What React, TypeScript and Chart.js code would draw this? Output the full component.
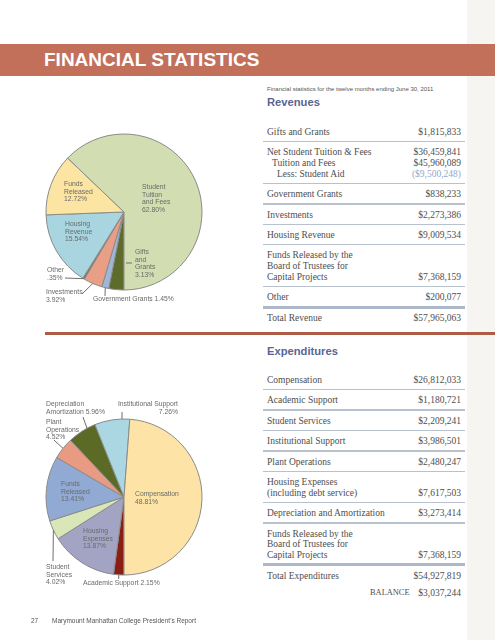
import React, { useEffect, useRef } from "react";
import { Chart, registerables } from "chart.js";

Chart.register(...registerables);

// ---------- DATA ----------
const revenueCategories = ["Gifts and Grants", "Government Grants", "Investments", "Other", "Housing Revenue", "Funds Released", "Student Tuition and Fees"];
const revenuePercents = [3.13, 1.45, 3.92, 0.35, 15.54, 12.72, 62.8];
const revenueColors = ["#5d6b2b", "#9fb6d9", "#e99e86", "#7a6656", "#a9d5e1", "#fce4a2", "#d3ddb2"];

const expenseCategories = ["Academic Support", "Housing Expenses", "Student Services", "Funds Released", "Plant Operations", "Depreciation Amortization", "Institutional Support", "Compensation"];
const expensePercents = [2.15, 13.87, 4.02, 13.41, 4.52, 5.96, 7.26, 48.81];
const expenseColors = ["#8b1e12", "#a3a3c4", "#d8e6b8", "#91aad3", "#e99a82", "#5b6b26", "#abd7e3", "#fde4a6"];

const revenueRows: string[][] = [
  ["Gifts and Grants"],
  ["Net Student Tuition & Fees", "Tuition and Fees", "Less: Student Aid"],
  ["Government Grants"],
  ["Investments"],
  ["Housing Revenue"],
  ["Funds Released by the", "Board of Trustees for", "Capital Projects"],
  ["Other"],
];
const revenueAmounts: string[][] = [
  ["$1,815,833"],
  ["$36,459,841", "$45,960,089", "($9,500,248)"],
  ["$838,233"],
  ["$2,273,386"],
  ["$9,009,534"],
  ["", "", "$7,368,159"],
  ["$200,077"],
];
const revenueTotal = ["Total Revenue", "$57,965,063"];

const expenseRows: string[][] = [
  ["Compensation"],
  ["Academic Support"],
  ["Student Services"],
  ["Institutional Support"],
  ["Plant Operations"],
  ["Housing Expenses", "(including debt service)"],
  ["Depreciation and Amortization"],
  ["Funds Released by the", "Board of Trustees for", "Capital Projects"],
];
const expenseAmounts: string[][] = [
  ["$26,812,033"],
  ["$1,180,721"],
  ["$2,209,241"],
  ["$3,986,501"],
  ["$2,480,247"],
  ["", "$7,617,503"],
  ["$3,273,414"],
  ["", "", "$7,368,159"],
];
const expenseTotal = ["Total Expenditures", "$54,927,819"];
const balance = ["BALANCE", "$3,037,244"];

// ---------- STYLE CONSTANTS ----------
const SANS = '"Liberation Sans", Arial, Helvetica, sans-serif';
const SERIF = '"Liberation Serif", "Times New Roman", serif';
const LABEL_COLOR = "#6a6a6a";
const TEXT_COLOR = "#4e4e4e";

type Leader = { index: number; frac?: number; from?: [number, number]; to: [number, number] };

const revenueLeaders: Leader[] = [
  { index: 0, from: [2, 51], to: [8, 51] },
  { index: 1, to: [-19, 84] },
  { index: 2, to: [-42, 82] },
  { index: 3, to: [-59, 66] },
];
const expenseLeaders: Leader[] = [
  { index: 0, to: [-5.3, 82] },
  { index: 2, to: [-71, 64] },
  { index: 4, to: [-70, -57] },
  { index: 5, frac: 0.7, to: [-41, -80] },
  { index: 6, frac: 0.78, to: [-2, -85] },
];

function PieCanvas(props: { labels: string[]; values: number[]; colors: string[]; top: number; leaders: Leader[] }) {
  const ref = useRef<HTMLCanvasElement>(null);
  useEffect(() => {
    const leaders = props.leaders;
    const leaderPlugin = {
      id: "leaders",
      afterDatasetsDraw(chart: any) {
        const meta = chart.getDatasetMeta(0);
        const ctx = chart.ctx;
        ctx.save();
        ctx.strokeStyle = "#6e6e6e";
        ctx.lineWidth = 1;
        leaders.forEach((l) => {
          const arc = meta.data[l.index];
          const p = arc.getProps(["x", "y", "startAngle", "endAngle", "outerRadius"], true);
          let x1: number, y1: number;
          if (l.from) {
            x1 = p.x + l.from[0];
            y1 = p.y + l.from[1];
          } else {
            const a = p.startAngle + (p.endAngle - p.startAngle) * (l.frac ?? 0.5);
            x1 = p.x + Math.cos(a) * p.outerRadius;
            y1 = p.y + Math.sin(a) * p.outerRadius;
          }
          ctx.beginPath();
          ctx.moveTo(x1, y1);
          ctx.lineTo(p.x + l.to[0], p.y + l.to[1]);
          ctx.stroke();
        });
        ctx.restore();
      },
    };
    const chart = new Chart(ref.current!, {
      type: "pie",
      data: {
        labels: props.labels,
        datasets: [
          {
            data: props.values,
            backgroundColor: props.colors,
            borderColor: "#8a8a8a",
            borderWidth: 1,
          },
        ],
      },
      options: {
        responsive: false,
        animation: false,
        rotation: 180,
        radius: 78,
        events: [],
        layout: { padding: 0 },
        plugins: { legend: { display: false }, tooltip: { enabled: false } },
      } as any,
      plugins: [leaderPlugin],
    });
    return () => chart.destroy();
  }, []);
  return <canvas ref={ref} width={248} height={180} style={{ position: "absolute", left: 0, top: props.top }} />;
}

function Label(props: { left?: number; right?: number; top: number; lines: string[]; align?: "left" | "right" }) {
  const style: React.CSSProperties = {
    position: "absolute",
    top: props.top,
    fontFamily: SANS,
    fontSize: 6.8,
    lineHeight: "7.7px",
    color: LABEL_COLOR,
    whiteSpace: "nowrap",
    textAlign: props.align || "left",
  };
  if (props.left !== undefined) style.left = props.left;
  if (props.right !== undefined) style.right = props.right;
  return (
    <div style={style}>
      {props.lines.map((t, i) => (
        <div key={i}>{t}</div>
      ))}
    </div>
  );
}

function Table(props: { rows: string[][]; amounts: string[][]; startY: number; total: string[]; extra?: string[] }) {
  const els: React.ReactNode[] = [];
  const LH = 10.7;
  let y = props.startY;
  let k = 0;
  const text = (t: string, yc: number, left: number, color = TEXT_COLOR) =>
    els.push(
      <div key={k++} style={{ position: "absolute", left, top: yc - 6, height: 12, lineHeight: "12px", fontFamily: SERIF, fontSize: 9.5, color, whiteSpace: "nowrap" }}>
        {t}
      </div>
    );
  const amount = (t: string, yc: number, color = TEXT_COLOR) =>
    els.push(
      <div key={k++} style={{ position: "absolute", right: 34, top: yc - 6, height: 12, lineHeight: "12px", fontFamily: SERIF, fontSize: 9.5, color, whiteSpace: "nowrap" }}>
        {t}
      </div>
    );
  const rule = (yc: number, thick: boolean) =>
    els.push(
      <div key={k++} style={{ position: "absolute", left: 263, width: 202, top: yc - (thick ? 1.5 : 0.75), height: thick ? 3 : 1.5, background: thick ? "#adb8ca" : "#b8c2cf" }} />
    );
  props.rows.forEach((lines, ri) => {
    lines.forEach((t, li) => {
      if (li > 0) y += LH;
      const indent = li === 0 ? 0 : lines[0].startsWith("Net") ? 5 * li : 0;
      text(t, y, 267 + indent);
      const a = props.amounts[ri][li];
      if (a) amount(a, y, a.startsWith("(") ? "#93a8c9" : TEXT_COLOR);
    });
    const last = ri === props.rows.length - 1;
    const ry = y + (last ? 10 : 9.7);
    rule(ry, last);
    y = ry + (last ? 11 : 10.7);
  });
  text(props.total[0], y, 267);
  amount(props.total[1], y);
  if (props.extra) {
    y += 17;
    els.push(
      <div key={k++} style={{ position: "absolute", left: 370, top: y - 6, height: 12, lineHeight: "12px", fontFamily: SERIF, fontSize: 8.4, color: TEXT_COLOR }}>
        {props.extra[0]}
      </div>
    );
    amount(props.extra[1], y);
  }
  return <>{els}</>;
}

export default function App() {
  return (
    <div style={{ position: "fixed", left: 0, top: 0, width: 495, height: 640, background: "#ffffff", overflow: "hidden" }}>
      {/* right strip */}
      <div style={{ position: "absolute", left: 467, top: 0, width: 28, height: 640, background: "#f7f5f1" }} />
      {/* header band */}
      <div style={{ position: "absolute", left: 0, top: 44, width: 495, height: 32, background: "#c2705a" }} />
      <div style={{ position: "absolute", left: 44, top: 48, height: 24, lineHeight: "24px", fontFamily: SANS, fontWeight: 700, fontSize: 19, color: "#ffffff", whiteSpace: "nowrap" }}>
        FINANCIAL STATISTICS
      </div>
      {/* subtitle */}
      <div style={{ position: "absolute", left: 267, top: 85, lineHeight: "8px", fontFamily: SANS, fontSize: 6, color: "#555", whiteSpace: "nowrap" }}>
        Financial statistics for the twelve months ending June 30, 2011
      </div>
      <div style={{ position: "absolute", left: 267, top: 95, lineHeight: "14px", fontFamily: SANS, fontWeight: 700, fontSize: 11.2, color: "#5a6494", whiteSpace: "nowrap" }}>
        Revenues
      </div>
      <Table rows={revenueRows} amounts={revenueAmounts} startY={132} total={revenueTotal} />

      {/* divider */}
      <div style={{ position: "absolute", left: 45, top: 331.5, width: 450, height: 3, background: "#ad5c45" }} />

      <div style={{ position: "absolute", left: 267, top: 344, lineHeight: "14px", fontFamily: SANS, fontWeight: 700, fontSize: 11.2, color: "#5a6494", whiteSpace: "nowrap" }}>
        Expenditures
      </div>
      <Table rows={expenseRows} amounts={expenseAmounts} startY={380} total={expenseTotal} extra={balance} />

      {/* revenue pie */}
      <PieCanvas labels={revenueCategories} values={revenuePercents} colors={revenueColors} top={122} leaders={revenueLeaders} />
      <Label left={64} top={180} lines={["Funds", "Released", "12.72%"]} />
      <Label left={65} top={220} lines={["Housing", "Revenue", "15.54%"]} />
      <Label left={142} top={183} lines={["Student", "Tuition", "and Fees", "62.80%"]} />
      <Label left={135} top={248} lines={["Gifts", "and", "Grants", "3.13%"]} />
      <Label left={47} top={266} lines={["Other", ".35%"]} />
      <Label left={46} top={288} lines={["Investments", "3.92%"]} />
      <Label left={93} top={295} lines={["Government Grants 1.45%"]} />

      {/* expenditure pie */}
      <PieCanvas labels={expenseCategories} values={expensePercents} colors={expenseColors} top={407} leaders={expenseLeaders} />
      <Label left={46} top={400} lines={["Depreciation", "Amortization 5.96%"]} />
      <Label right={495 - 178} top={400} lines={["Institutional Support", "7.26%"]} align="right" />
      <Label left={46} top={418} lines={["Plant", "Operations", "4.52%"]} />
      <Label left={61} top={480} lines={["Funds", "Released", "13.41%"]} />
      <Label left={135} top={490} lines={["Compensation", "48.81%"]} />
      <Label left={83} top={527} lines={["Housing", "Expenses", "13.87%"]} />
      <Label left={46} top={563} lines={["Student", "Services", "4.02%"]} />
      <Label left={83} top={579} lines={["Academic Support 2.15%"]} />

      {/* footer */}
      <div style={{ position: "absolute", left: 31, top: 617, lineHeight: "8px", fontFamily: SANS, fontSize: 6.5, color: "#555", whiteSpace: "nowrap" }}>27</div>
      <div style={{ position: "absolute", left: 52, top: 617, lineHeight: "8px", fontFamily: SANS, fontSize: 6.5, color: "#555", whiteSpace: "nowrap" }}>
        Marymount Manhattan College President's Report
      </div>
    </div>
  );
}
